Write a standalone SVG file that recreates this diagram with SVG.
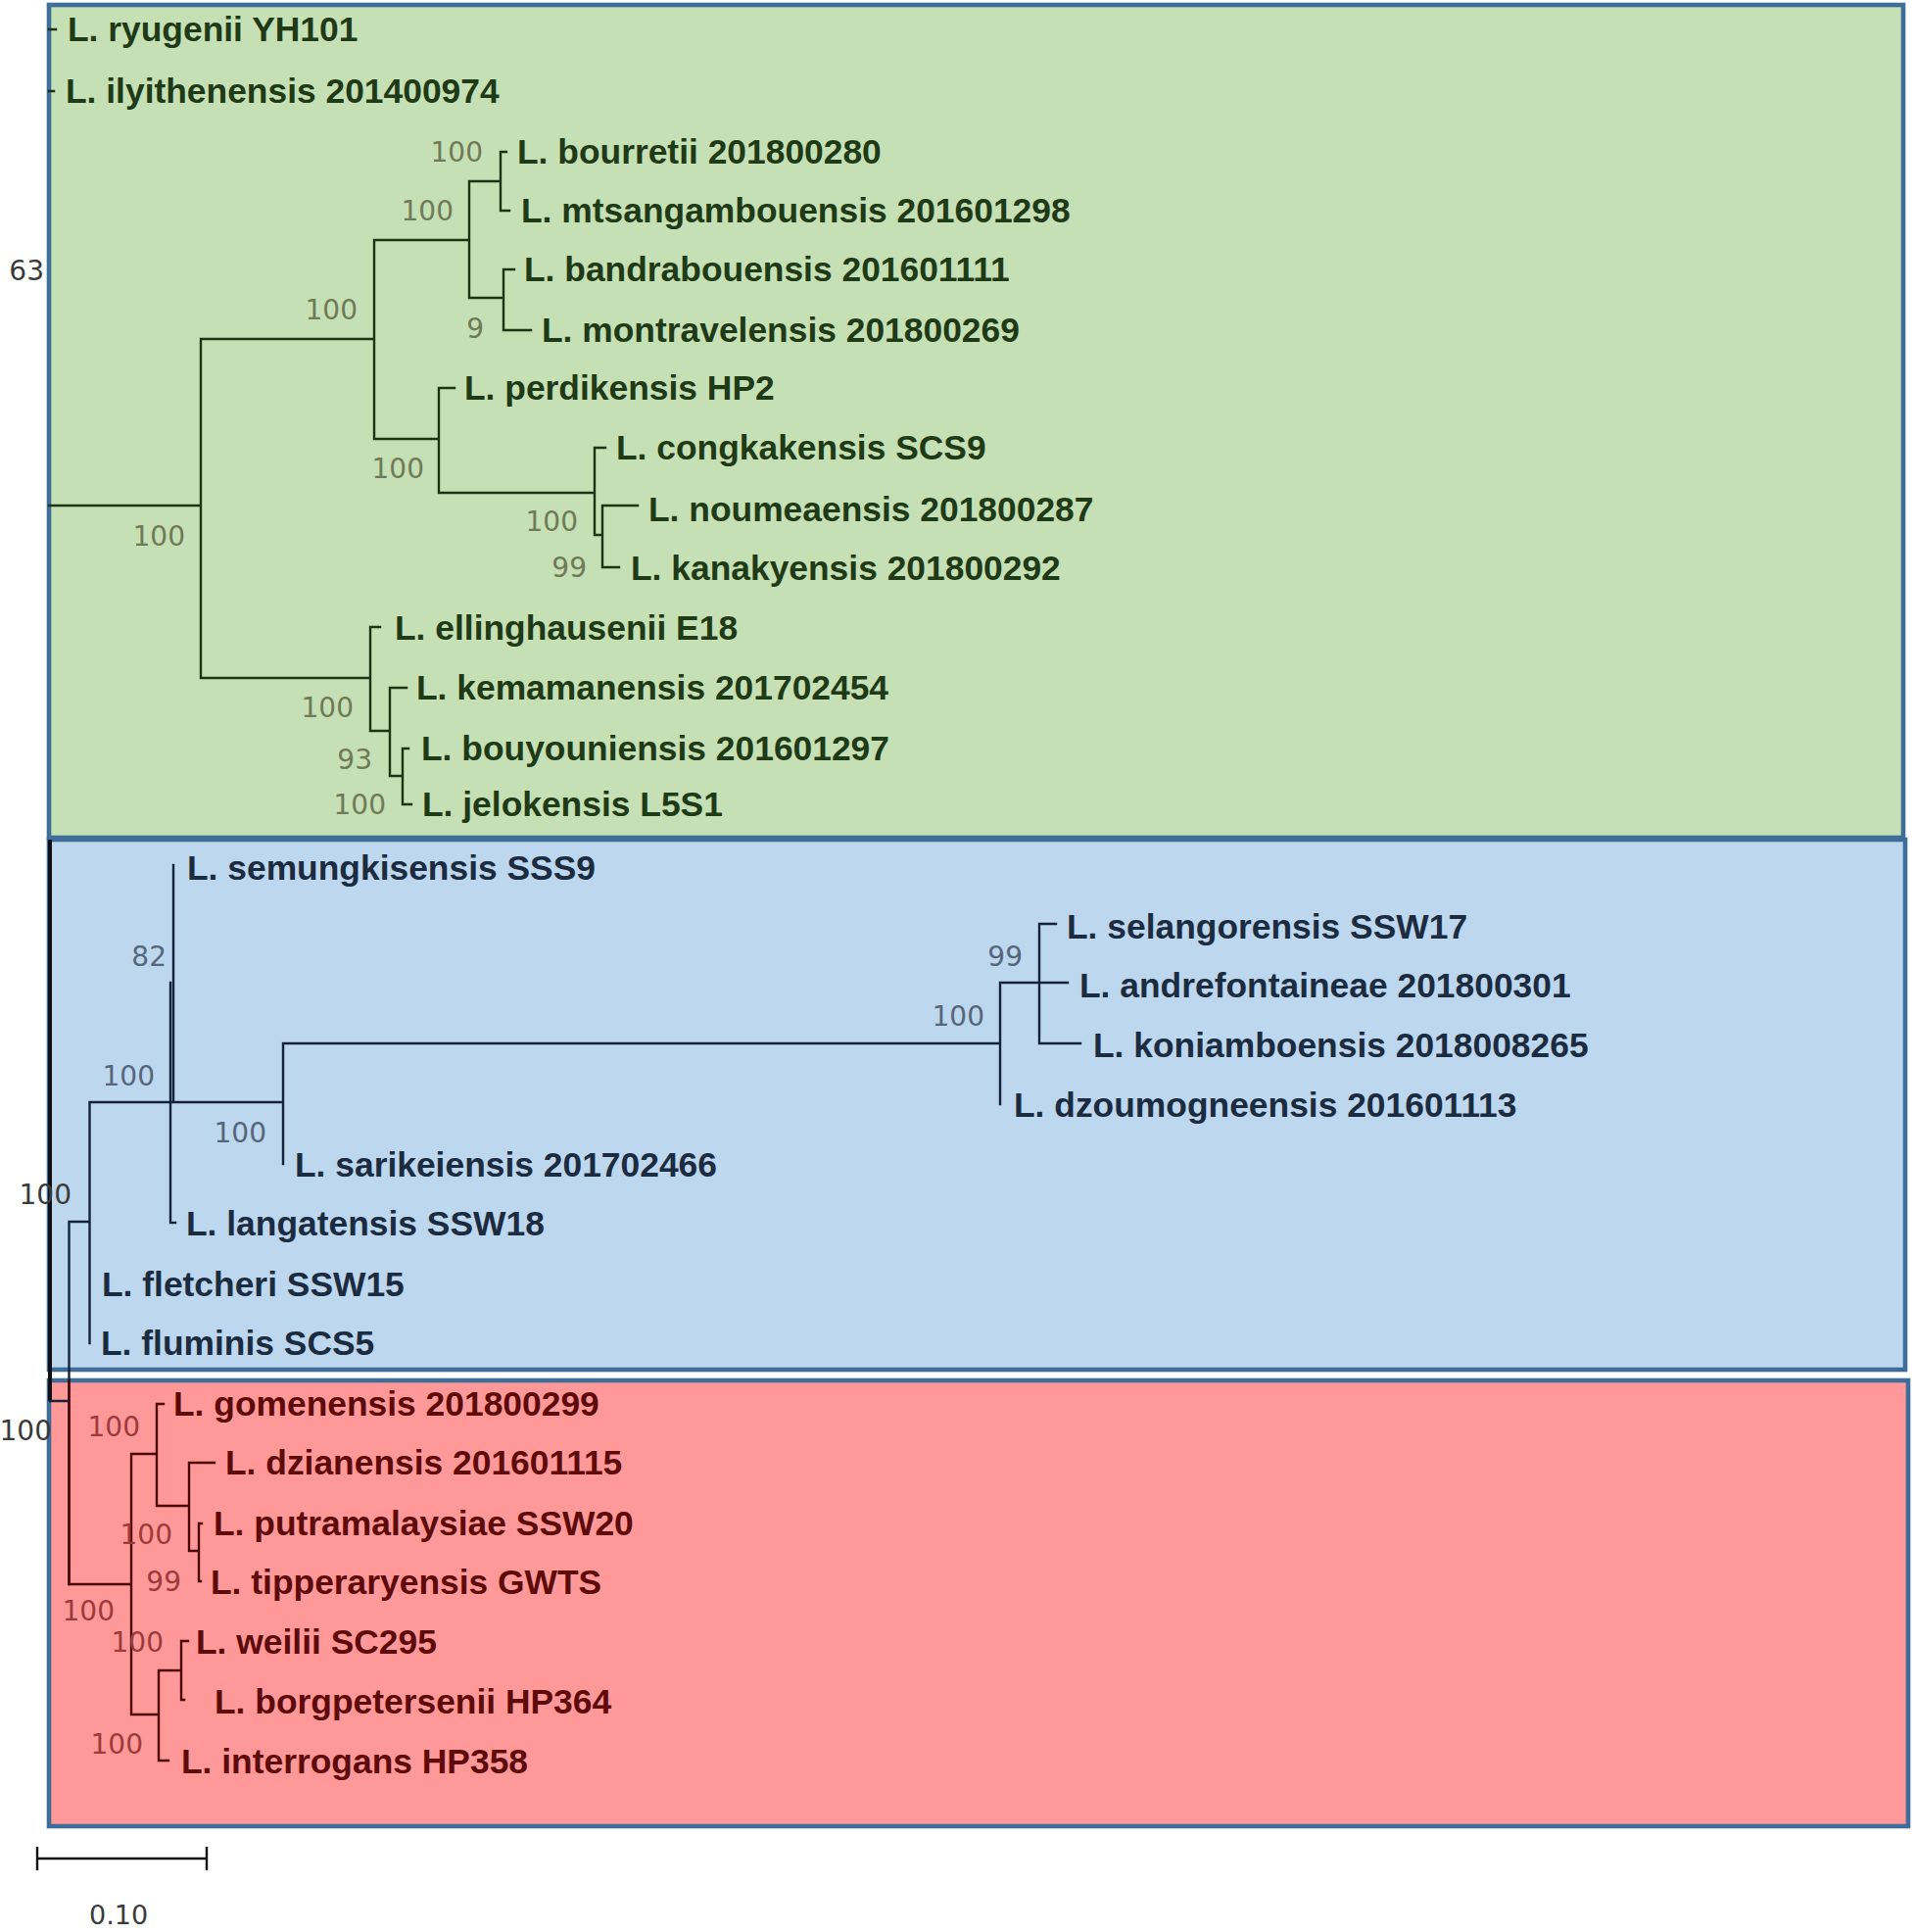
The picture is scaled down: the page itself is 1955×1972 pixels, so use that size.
<svg xmlns="http://www.w3.org/2000/svg" width="1955" height="1972" viewBox="0 0 1955 1972">
<style>
.box{stroke:#3F6D99;stroke-width:4.6}
.lab{font-family:"Liberation Sans",Arial,sans-serif;font-weight:bold;font-size:35.4px}
.g{fill:#1f3a17}.b{fill:#1c2c40}.r{fill:#5e0a0a}
.num{font-family:"DejaVu Sans",sans-serif;font-size:28px;text-anchor:end}
.ng{fill:#6f7a58}.nb{fill:#56667a}.nr{fill:#9c3b3b}.no{fill:#3a3a3a}
.t{fill:none;stroke-width:2.4;stroke-linecap:square}
.tg{stroke:#1c3414}.tb{stroke:#14233a}.tr{stroke:#4a0606}
</style>
<rect width="1955" height="1972" fill="#ffffff"/>
<g id="clade-boxes">
<rect class="box" x="50" y="5" width="1893" height="850" fill="#C5E0B4"/>
<rect class="box" x="50" y="857" width="1895" height="541" fill="#BDD7EE"/>
<rect class="box" x="50" y="1409" width="1898" height="455" fill="#FF9999"/>
</g>
<g id="connectors">
<path class="t tg" d="M50 30H57M50 93H55M50 516H205M205 346V692M205 346H382M382 245V448M382 245H479M479 185V304M479 185H511M511 155V215M511 155H517M511 215H520M479 304H514M514 275V337M514 275H525M514 337H542M382 448H448M448 396V503M448 396H464M448 503H607M607 457V546M607 457H618M607 546H615M615 516V579M615 516H651M615 579H632M205 692H378M378 640V746M378 640H388M378 746H398M398 702V792M398 702H415M398 792H411M411 764V821M411 764H417M411 821H420"/>
<path d="M51 857V1430" stroke="#0e0e14" stroke-width="4" fill="none"/>
<path class="t tb" d="M51 1430H70.5M70.5 1247V1617M70.5 1247H91.5M91.5 1125V1371M91.5 1125H289M177 883V1125M174 1003V1248M174 1248H179M289 1065V1188M289 1065H1021M1021 1003V1127M1021 1003H1090M1061 943V1065M1061 943H1078M1061 1065H1103"/>
<path class="t tr" d="M70.5 1409V1617M70.5 1617H134M134 1484V1750M134 1484H160M160 1433V1537M160 1433H167M160 1537H193M193 1493V1583M193 1493H219M193 1583H203M203 1555V1614M203 1555H206M203 1614H205M134 1750H162M162 1705V1797M162 1797H172M162 1705H185M185 1675V1735M185 1675H192M185 1735H188"/>
<path d="M38 1897H211M38 1885V1909M211 1885V1909" stroke="#111" stroke-width="2.4" fill="none"/>
</g>
<g id="taxa-green" class="lab g">
<g id="n-ryugenii"><text x="69" y="42">L. ryugenii YH101</text></g>
<g id="n-ilyithenensis"><text x="67" y="105">L. ilyithenensis 201400974</text></g>
<g id="n-bourretii"><text x="528" y="167">L. bourretii 201800280</text></g>
<g id="n-mtsangambouensis"><text x="532" y="227">L. mtsangambouensis 201601298</text></g>
<g id="n-bandrabouensis"><text x="535" y="287">L. bandrabouensis 201601111</text></g>
<g id="n-montravelensis"><text x="553" y="349">L. montravelensis 201800269</text></g>
<g id="n-perdikensis"><text x="474" y="408">L. perdikensis HP2</text></g>
<g id="n-congkakensis"><text x="629" y="469">L. congkakensis SCS9</text></g>
<g id="n-noumeaensis"><text x="662" y="532">L. noumeaensis 201800287</text></g>
<g id="n-kanakyensis"><text x="644" y="592">L. kanakyensis 201800292</text></g>
<g id="n-ellinghausenii"><text x="403" y="653">L. ellinghausenii E18</text></g>
<g id="n-kemamanensis"><text x="425" y="714">L. kemamanensis 201702454</text></g>
<g id="n-bouyouniensis"><text x="430" y="776">L. bouyouniensis 201601297</text></g>
<g id="n-jelokensis"><text x="431" y="833">L. jelokensis L5S1</text></g>
</g>
<g id="taxa-blue" class="lab b">
<g id="n-semungkisensis"><text x="191" y="898">L. semungkisensis SSS9</text></g>
<g id="n-selangorensis"><text x="1089" y="958">L. selangorensis SSW17</text></g>
<g id="n-andrefontaineae"><text x="1102" y="1018">L. andrefontaineae 201800301</text></g>
<g id="n-koniamboensis"><text x="1116" y="1079">L. koniamboensis 2018008265</text></g>
<g id="n-dzoumogneensis"><text x="1035" y="1140">L. dzoumogneensis 201601113</text></g>
<g id="n-sarikeiensis"><text x="301" y="1201">L. sarikeiensis 201702466</text></g>
<g id="n-langatensis"><text x="190" y="1261">L. langatensis SSW18</text></g>
<g id="n-fletcheri"><text x="104" y="1323">L. fletcheri SSW15</text></g>
<g id="n-fluminis"><text x="103" y="1383">L. fluminis SCS5</text></g>
</g>
<g id="taxa-red" class="lab r">
<g id="n-gomenensis"><text x="177" y="1445">L. gomenensis 201800299</text></g>
<g id="n-dzianensis"><text x="230" y="1505">L. dzianensis 201601115</text></g>
<g id="n-putramalaysiae"><text x="218" y="1567">L. putramalaysiae SSW20</text></g>
<g id="n-tipperaryensis"><text x="215" y="1627">L. tipperaryensis GWTS</text></g>
<g id="n-weilii"><text x="200" y="1688">L. weilii SC295</text></g>
<g id="n-borgpetersenii"><text x="219" y="1749">L. borgpetersenii HP364</text></g>
<g id="n-interrogans"><text x="185" y="1810">L. interrogans HP358</text></g>
</g>
<g id="bootstrap" class="num">
<text class="no" x="45" y="286">63</text>
<text class="ng" x="189" y="557">100</text>
<text class="ng" x="365" y="326">100</text>
<text class="ng" x="463" y="225">100</text>
<text class="ng" x="493" y="165">100</text>
<text class="ng" x="494" y="345">9</text>
<text class="ng" x="433" y="488">100</text>
<text class="ng" x="590" y="542">100</text>
<text class="ng" x="599" y="589">99</text>
<text class="ng" x="361" y="732">100</text>
<text class="ng" x="380" y="785">93</text>
<text class="ng" x="394" y="831">100</text>
<text class="nb" x="170" y="986">82</text>
<text class="nb" x="158" y="1108">100</text>
<text class="nb" x="272" y="1166">100</text>
<text class="nb" x="1005" y="1047">100</text>
<text class="nb" x="1044" y="986">99</text>
<text class="no" x="73" y="1229">100</text>
<text class="no" x="53" y="1470">100</text>
<text class="nr" x="143" y="1466">100</text>
<text class="nr" x="176" y="1576">100</text>
<text class="nr" x="185" y="1624">99</text>
<text class="nr" x="117" y="1654">100</text>
<text class="nr" x="167" y="1686">100</text>
<text class="nr" x="146" y="1790">100</text>
</g>
<g id="scale-label"><text x="91" y="1964" font-family="DejaVu Sans, sans-serif" font-size="27" fill="#3a3a3a">0.10</text></g>
</svg>
